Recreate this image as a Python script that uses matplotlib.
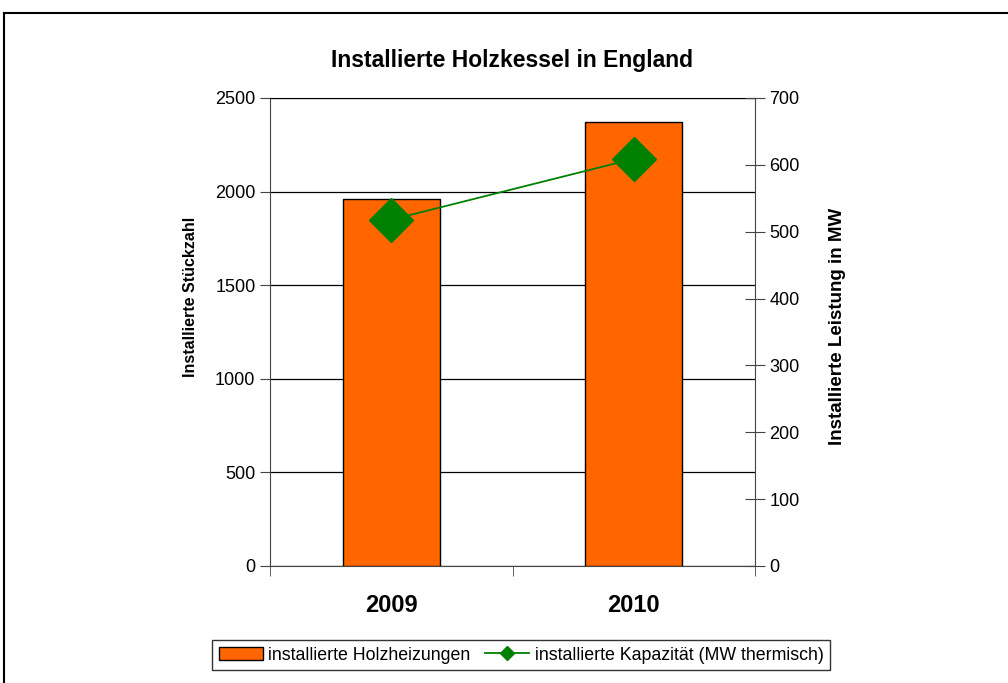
import matplotlib.pyplot as plt
from matplotlib.lines import Line2D
from matplotlib.patches import Patch

plt.rcParams['font.family'] = ['Liberation Sans', 'DejaVu Sans']

years = ['2009', '2010']
stueckzahl = [1960, 2372]
leistung_mw = [518, 609]

orange = '#FF6600'
green = '#008000'

fig = plt.figure(figsize=(10.08, 6.83), dpi=100)
ax = fig.add_axes([270 / 1008, 1 - 566 / 683, 485 / 1008, 468 / 683])

x = list(range(len(years)))
ax.bar(x, stueckzahl, width=0.4, color=orange, edgecolor='black', linewidth=1, zorder=3)
ax.set_xlim(-0.5, 1.5)
ax.set_ylim(0, 2500)
ax.set_yticks(range(0, 2501, 500))
ax.yaxis.grid(True, color='black', linewidth=0.9, zorder=0)
ax.set_axisbelow(True)
ax.set_xticks(x)
ax.set_xticklabels(years, fontsize=17, fontweight='bold')
ax.tick_params(axis='x', length=0, pad=20)
ax.set_xticks([-0.5, 0.5, 1.5], minor=True)
ax.tick_params(axis='x', which='minor', length=7, direction='out', color='#444444')
ax.tick_params(axis='y', labelsize=13, length=7, direction='out', color='#444444')
ax.set_ylabel('Installierte Stückzahl', fontsize=11.5, fontweight='bold')
ax.yaxis.set_label_coords(-0.148, 0.575)
for s in ['left', 'bottom']:
    ax.spines[s].set_color('#444444')
ax.spines['top'].set_color('black')
ax.spines['right'].set_visible(False)

ax2 = ax.twinx()
ax2.plot(x, leistung_mw, color=green, linewidth=1.3, marker='D', markersize=22,
         zorder=4)
ax2.set_ylim(0, 700)
ax2.set_yticks(range(0, 701, 100))
ax2.tick_params(axis='y', labelsize=13, length=14, direction='inout', color='#444444')
ax2.set_ylabel('Installierte Leistung in MW', fontsize=13.5, fontweight='bold')
ax2.yaxis.set_label_coords(1.152, 0.512)
ax2.spines['right'].set_color('#444444')
for s in ['left', 'top', 'bottom']:
    ax2.spines[s].set_visible(False)

fig.text(512 / 1008, 1 - 60 / 683, 'Installierte Holzkessel in England',
         ha='center', va='center', fontsize=16.5, fontweight='bold')

handles = [
    Patch(facecolor=orange, edgecolor='black', linewidth=1),
    Line2D([0], [0], color=green, linewidth=1.3, marker='D', markersize=7),
]
labels = ['installierte Holzheizungen', 'installierte Kapazität (MW thermisch)']
leg = fig.legend(handles, labels, loc='center', bbox_to_anchor=(521 / 1008, 1 - 655 / 683),
                 ncol=2, fontsize=12.8, frameon=True, fancybox=False, edgecolor='black',
                 handlelength=2.5, handletextpad=0.3, columnspacing=0.8,
                 borderpad=0.35)
leg.get_frame().set_linewidth(1)

# outer chart frame
fig.add_artist(Line2D([4 / 1008, 1], [1 - 13 / 683, 1 - 13 / 683], color='black', linewidth=1.5))
fig.add_artist(Line2D([4 / 1008, 4 / 1008], [0, 1 - 13 / 683], color='black', linewidth=1.5))

fig.savefig('out.png', dpi=100)
